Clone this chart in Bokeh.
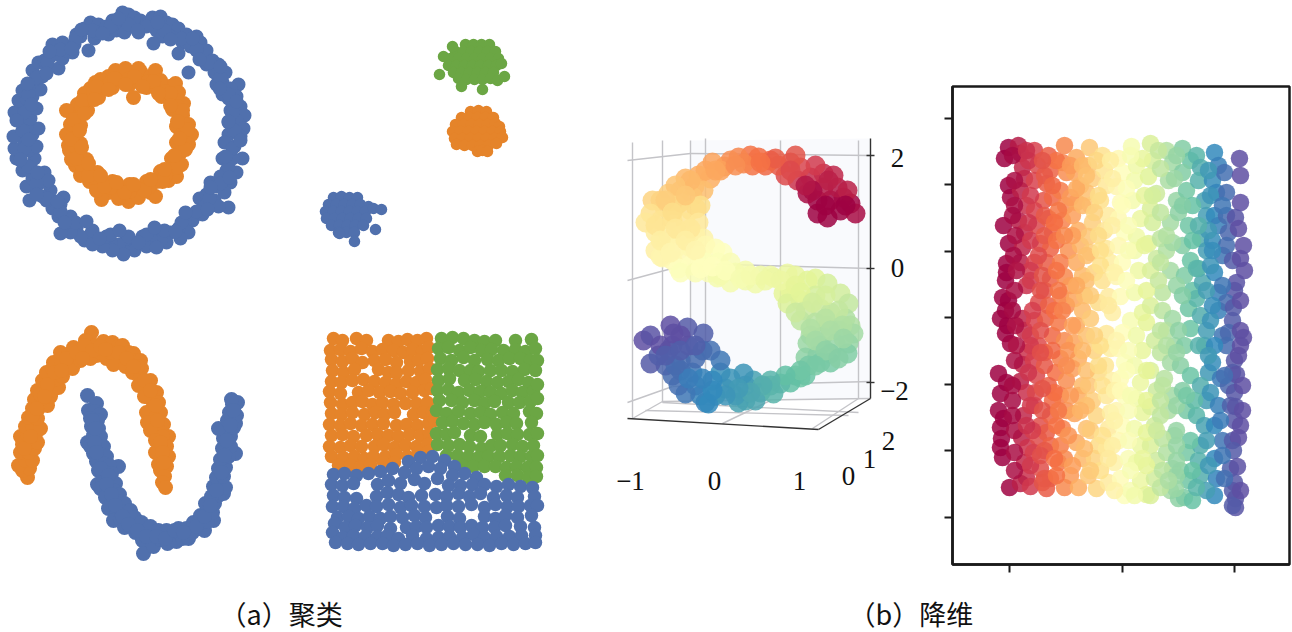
from bokeh.embed import file_html
from bokeh.resources import INLINE
from bokeh.plotting import figure
from bokeh.layouts import row, column
from bokeh.models import Range1d, FixedTicker, LinearAxis, LinearColorMapper, ColumnDataSource
from bokeh.core.properties import value
from bokeh.palettes import Spectral11, interp_palette

BLUE = "#5070ad"
ORANGE = "#e5842a"
GREEN = "#6ba644"

ring_outer = [(128,14),(122,12),(134,17),(126,26),(118,22),(140,20),(146,24),(138,32),(152,17),(160,16),(166,22),(156,30),(162,36),(172,24),(178,28),(170,36),(153,43),(186,34),(192,38),(182,42),(178,53),(196,36),(200,42),(206,50),(196,50),(190,46),(212,60),(206,64),(218,64),(225,72),(214,72),(188,72),(238,84),(222,82),(230,88),(216,84),(228,98),(236,96),(222,94),(240,106),(230,110),(244,115),(236,120),(228,122),(232,130),(243,128),(240,136),(228,134),(234,146),(224,142),(242,158),(232,158),(222,158),(236,172),(226,170),(220,176),(230,182),(216,186),(224,192),(210,182),(199,198),(228,207),(214,200),(206,194),(218,206),(204,206),(196,212),(192,220),(202,214),(184,222),(188,232),(178,228),(170,232),(180,238),(166,242),(156,232),(160,240),(150,238),(142,236),(146,246),(136,242),(128,240),(156,247),(134,250),(122,248),(126,238),(118,244),(123,254),(110,242),(112,250),(102,246),(96,238),(106,236),(90,234),(84,240),(92,244),(76,228),(80,236),(70,232),(60,233),(66,222),(58,216),(70,216),(52,208),(63,197),(46,200),(50,190),(60,204),(42,196),(29,200),(36,186),(46,182),(26,186),(32,178),(44,172),(48,180),(22,170),(30,166),(20,160),(34,158),(28,150),(16,158),(36,146),(24,142),(14,148),(20,134),(13,136),(32,134),(38,128),(26,126),(20,120),(14,112),(30,118),(24,110),(36,108),(18,100),(26,98),(22,90),(32,96),(40,89),(28,86),(36,78),(32,70),(42,76),(38,62),(46,66),(58,68),(50,56),(44,60),(62,58),(56,48),(66,50),(52,44),(62,42),(74,44),(72,52),(80,36),(76,34),(88,50),(84,28),(94,38),(90,22),(98,24),(96,32),(106,26),(112,20),(108,34),(116,30),(124,32),
(128,24),(146,26),(164,30),(181,38),(196,49),(209,62),(220,77),(228,94),(232,112),(234,130),(232,148),(228,166),(220,183),(209,198),(196,211),(181,222),(164,230),(146,234),(128,236),(110,234),(92,230),(75,222),(60,211),(47,198),(36,183),(28,166),(24,148),(22,130),(24,112),(28,94),(36,77),(47,62),(60,49),(75,38),(92,30),(110,26),
(137,30),(157,22),(170,39),(192,38),(199,59),(220,66),(219,88),(236,101),(228,121),(240,140),(225,156),(229,177),(210,187),(207,209),(185,212),(175,231),(154,227),(138,242),(119,230),(99,238),(86,221),(64,222),(57,201),(36,194),(37,172),(20,159),(28,139),(16,120),(31,104),(27,83),(46,73),(49,51),(71,48),(81,29),(102,33),(118,18)]

ring_inner = [(129,84),(129,72),(138,81),(140,71),(146,87),(150,76),(156,87),(161,96),(169,86),(172,98),(172,109),(183,103),(182,115),(176,126),(188,124),(181,134),(191,134),(176,142),(188,144),(180,152),(171,158),(181,164),(170,169),(160,171),(168,180),(156,181),(146,181),(150,192),(139,189),(129,184),(129,198),(119,189),(112,181),(108,192),(101,182),(97,172),(89,181),(86,170),(86,159),(75,165),(76,153),(80,143),(68,145),(73,134),(66,134),(80,125),(70,124),(76,115),(87,110),(77,104),(88,99),(98,97),(90,88),(102,87),(112,87),(108,76),(119,79),(133,97),(175,83),(115,70),(125,68),(138,68),(100,79),(155,70),(128,201),(101,199),(155,196),(66,110),(69,150),(160,80),(178,92),(184,140),(176,176),(138,197),(118,198),(96,190),(80,175),(71,159),(84,93),(95,82),(129,78),(148,81),(165,91),(177,106),(184,124),(165,175),(148,187),(129,191),(110,187),(93,177),(81,164),(74,145),(72,124),(81,106),(93,92),(110,82),
(134,76),(153,81),(170,93),(182,110),(187,129),(185,149),(177,167),(162,181),(144,190),(124,192),(104,186),(88,175),(76,158),(71,139),(73,119),(82,100),(96,86),(114,78),
(142,86),(158,93),(170,105),(177,121),(179,138),(174,155),(164,169),(150,179),(133,184),(116,182),(100,175),(88,163),(81,147),(79,130),(84,113),(94,99),(108,89),(125,84)]

moon_orange = [(27,477),(22,470),(29,468),(18,465),(25,460),(32,460),(20,452),(28,452),(34,448),(22,444),(29,442),(37,442),(20,436),(27,434),(35,434),(25,426),(32,426),(40,428),(28,417),(35,417),(37,418),(32,408),(38,408),(47,405),(34,399),(41,398),(50,396),(37,390),(44,389),(52,390),(58,387),(42,380),(48,379),(55,379),(62,376),(46,372),(52,368),(58,369),(65,368),(53,362),(61,361),(68,362),(72,368),(60,352),(68,354),(74,356),(80,360),(73,347),(80,349),(86,354),(88,345),(91,332),(85,340),(95,345),(96,355),(90,358),(100,352),(103,341),(108,347),(106,358),(112,342),(118,346),(114,355),(122,345),(128,352),(120,358),(113,364),(133,353),(135,360),(125,366),(140,360),(141,368),(132,372),(150,380),(140,378),(146,388),(138,385),(156,392),(150,398),(144,396),(158,402),(152,408),(146,412),(160,412),(154,418),(147,422),(163,424),(157,428),(150,430),(168,436),(162,436),(155,440),(166,446),(160,448),(155,452),(168,456),(161,458),(158,464),(166,466),(160,470),(164,476),(162,482),(165,487),
(24,448),(30,436),(32,415),(40,394),(47,384),(54,372),(66,358),(76,352),(84,345),(92,350),(100,346),(110,352),(118,352),(126,358),(137,366),(144,380),(150,390),(155,405),(157,420),(160,442),(162,452),(163,462),(36,408),(44,396),(61,370),(82,358),(105,349),(133,366)]

moon_blue = [(87,395),(96,403),(88,410),(94,411),(100,414),(90,418),(97,420),(91,426),(98,428),(87,442),(93,435),(100,436),(90,446),(97,445),(103,446),(93,453),(100,454),(106,456),(118,466),(96,461),(103,463),(109,465),(98,470),(105,472),(111,473),(97,484),(102,480),(109,481),(115,483),(100,488),(106,490),(113,490),(119,494),(105,497),(111,499),(118,501),(124,503),(108,508),(116,510),(123,511),(130,510),(113,520),(120,519),(127,519),(134,517),(137,525),(124,527),(131,526),(141,522),(135,532),(143,531),(150,526),(142,540),(150,538),(158,530),(143,553),(153,546),(160,539),(166,530),(167,543),(172,535),(178,528),(176,541),(182,538),(188,538),(186,528),(193,522),(192,532),(200,528),(204,530),(213,520),(207,521),(200,515),(207,510),(212,512),(205,503),(214,503),(223,493),(218,495),(211,496),(213,486),(221,484),(225,487),(216,477),(223,476),(218,468),(225,467),(235,453),(228,456),(220,459),(222,448),(230,446),(223,438),(230,436),(226,428),(233,427),(218,428),(227,420),(235,423),(229,412),(236,415),(232,404),(237,402),(231,399),
(92,420),(95,428),(94,442),(96,452),(100,468),(108,475),(106,484),(111,494),(115,505),(122,516),(128,524),(137,530),(146,536),(156,536),(165,538),(174,530),(183,532),(196,526),(204,516),(210,505),(216,490),(221,472),(224,455),(226,440),(230,425),(233,410)]

blob_green = [(465,44),(473,44),(481,44),(489,44),(455,51),(463,51),(471,51),(479,51),(487,51),(495,51),(450,58),(458,58),(466,58),(474,58),(482,58),(490,58),(498,58),(448,65),(456,65),(464,65),(472,65),(480,65),(488,65),(496,65),(501,63),(453,72),(461,72),(469,72),(477,72),(485,72),(493,72),(458,78),(466,79),(474,79),(482,79),(490,78),(439,74),(452,46),(443,56),(461,86),(482,89),(497,80),(504,76)]
blob_orange = [(470,111),(478,110),(486,111),(461,117),(469,117),(477,117),(485,117),(493,117),(455,124),(463,124),(471,124),(479,124),(487,124),(495,123),(499,126),(452,131),(460,131),(468,131),(476,131),(484,131),(492,131),(500,131),(454,138),(462,138),(470,138),(478,138),(486,138),(494,138),(502,137),(456,144),(464,145),(472,145),(480,145),(488,145),(496,143),(477,151),(482,150),(487,151)]
blob_blue = [(333,197),(341,196),(349,197),(357,197),(328,204),(336,204),(344,204),(352,204),(360,204),(368,206),(325,211),(333,211),(341,211),(349,211),(357,211),(365,211),(373,208),(381,209),(326,218),(334,218),(342,218),(350,218),(358,218),(366,218),(331,225),(339,225),(347,225),(355,225),(363,225),(338,232),(346,232),(354,232),(375,229),(339,233),(354,241)]

square_orange = [(333,338),(342,340),(356,338),(366,340),(388,340),(398,341),(407,339),(417,340),(426,338),
(330,350),(340,349),(350,351),(361,348),(372,351),(382,349),(393,350),(403,352),(412,349),(422,351),(428,347),
(331,359),(342,361),(352,358),(362,362),(374,360),(385,359),(396,362),(410,361),(418,360),(427,358),
(332,370),(343,372),(354,369),(378,369),(388,372),(396,372),(408,370),(420,371),(429,368),
(331,381),(341,382),(352,380),(363,379),(374,381),(385,382),(396,383),(406,381),(416,382),(425,379),
(329,391),(340,393),(358,392),(368,390),(379,392),(390,391),(400,393),(412,392),(424,390),(431,388),
(330,402),(342,404),(352,402),(362,401),(372,404),(382,402),(393,404),(405,403),(416,403),(427,402),
(331,413),(341,414),(352,412),(364,414),(375,412),(384,414),(394,412),(413,414),(423,412),(432,412),
(329,424),(340,425),(350,423),(361,425),(372,424),(383,423),(396,425),(406,424),(417,425),(428,423),(434,420),
(331,435),(342,434),(353,436),(366,435),(377,434),(388,435),(398,436),(409,434),(420,435),(429,433),
(329,446),(340,447),(350,445),(361,446),(374,446),(383,444),(394,447),(405,445),(416,446),(427,444),
(331,456),(343,457),(354,456),(364,458),(373,456),(385,456),(396,454),(407,456),(418,452),(428,451),
(338,465),(350,465),(360,467),(370,464),(383,462),(394,462)]

square_green = [(441,338),(452,337),(463,338),(474,340),(484,341),(495,340),(515,340),(531,339),
(438,348),(448,347),(459,350),(470,347),(481,350),(491,349),(503,350),(515,349),(525,351),(535,348),
(440,358),(451,360),(463,357),(474,360),(487,359),(498,360),(509,358),(520,358),(530,360),(537,360),
(437,369),(448,368),(459,370),(470,370),(478,371),(490,370),(501,370),(512,371),(524,369),(535,370),
(438,380),(449,378),(464,380),(475,379),(486,381),(497,382),(508,381),(518,379),(528,382),
(437,390),(448,389),(458,392),(469,390),(480,391),(490,392),(501,393),(512,390),(522,392),(533,391),(537,384),
(439,400),(451,400),(462,402),(474,400),(484,403),(494,401),(508,402),(519,402),(530,401),(537,398),
(436,410),(446,413),(458,411),(470,413),(480,412),(490,414),(502,412),(513,413),(529,411),(536,413),
(442,422),(452,421),(463,423),(474,424),(484,422),(496,424),(506,422),(516,423),(531,422),
(436,433),(446,434),(454,432),(470,435),(480,436),(497,434),(507,433),(517,434),(529,434),(537,433),
(437,444),(448,445),(459,444),(469,446),(481,448),(491,445),(500,445),(512,444),(522,446),(533,445),
(446,455),(457,455),(468,456),(478,457),(488,456),(499,456),(510,455),(520,456),(531,456),(537,455),
(462,465),(473,466),(484,466),(495,466),(506,467),(516,466),(527,467),(536,467),
(505,475),(517,475),(528,477),(536,476)]

square_blue = [(408,461),(420,457),(432,456),(444,460),(454,466),
(333,474),(344,473),(356,475),(368,473),(380,471),(392,468),(404,472),(416,468),(428,466),(440,468),(452,475),(464,473),(476,477),
(331,484),(342,485),(353,483),(377,484),(388,480),(400,483),(414,479),(424,483),(437,478),(448,485),(460,485),(472,484),(484,484),(496,486),(508,484),(520,486),(532,487),
(333,495),(344,497),(356,498),(376,496),(387,492),(398,494),(408,497),(421,495),(435,494),(446,496),(458,493),(469,496),(480,493),(493,497),(506,495),(517,497),(534,496),
(332,506),(343,506),(354,508),(366,505),(376,506),(388,504),(400,507),(411,505),(424,506),(436,507),(446,505),(458,506),(471,504),(484,507),(495,504),(507,506),(518,506),(530,505),(537,505),
(337,517),(348,516),(358,518),(369,516),(380,518),(390,516),(402,517),(414,515),(425,517),(447,516),(459,518),(484,516),(495,518),(505,515),(517,517),(531,515),
(334,523),(345,527),(355,525),(367,527),(377,525),(390,528),(406,527),(416,526),(426,527),(438,525),(449,526),(460,527),(471,525),(482,527),(494,527),(505,525),(520,526),(534,527),
(332,532),(342,537),(353,535),(365,536),(377,536),(387,535),(398,538),(412,535),(426,538),(438,537),(449,536),(462,537),(473,534),(484,537),(496,536),(509,536),(521,535),(535,535),
(335,542),(347,543),(358,544),(370,543),(382,543),(393,545),(405,544),(417,543),(429,545),(441,544),(453,543),(465,544),(477,544),(489,545),(501,543),(513,544),(525,543),(535,542)]

embed_points = [(1004,158),(1008,147),(1018,145),(1008,185),(1010,197),(1003,225),(1008,243),(1006,263),(1005,280),(1002,297),(1008,300),(1000,318),(1005,333),(1010,343),(998,373),(1000,393),(998,410),(1000,427),(1000,447),(1002,457),(1009,487),(1006,272),(1005,310),(1007,325),(1006,382),(1001,438),(1003,418),
(1020,153),(1022,167),(1024,178),(1020,190),(1026,205),(1018,220),(1024,232),(1022,247),(1020,262),(1026,285),(1022,318),(1024,330),(1027,352),(1022,364),(1020,381),(1026,392),(1023,415),(1021,437),(1027,447),(1024,462),(1026,477),(1020,483),
(1034,150),(1037,165),(1034,180),(1043,200),(1034,210),(1036,225),(1040,243),(1034,262),(1030,280),(1038,302),(1034,320),(1030,335),(1038,345),(1033,360),(1036,375),(1035,392),(1034,405),(1040,425),(1038,438),(1033,452),(1040,468),(1030,486),(1042,482),
(1048,155),(1050,170),(1046,183),(1052,197),(1048,218),(1052,232),(1050,248),(1046,262),(1050,278),(1044,290),(1048,305),(1045,318),(1052,335),(1044,352),(1055,372),(1048,385),(1052,400),(1050,415),(1046,432),(1050,445),(1058,462),(1050,478),(1046,488),
(1064,145),(1062,162),(1066,172),(1060,190),(1065,205),(1062,220),(1068,250),(1060,262),(1064,276),(1060,295),(1066,305),(1058,322),(1064,340),(1060,358),(1066,380),(1060,395),(1066,410),(1062,428),(1060,445),(1064,458),(1070,475),(1064,487),
(1076,157),(1074,172),(1080,185),(1076,202),(1072,215),(1078,230),(1080,245),(1076,262),(1082,275),(1074,298),(1082,310),(1076,325),(1074,342),(1078,358),(1072,368),(1082,385),(1078,395),(1074,413),(1086,428),(1076,442),(1082,458),(1078,487),
(1089,147),(1088,165),(1092,178),(1086,192),(1090,205),(1092,222),(1088,236),(1090,252),(1094,272),(1086,280),(1098,302),(1090,318),(1086,335),(1094,350),(1098,372),(1088,385),(1092,400),(1096,415),(1090,430),(1098,445),(1094,458),(1096,488),
(1102,155),(1104,170),(1106,185),(1100,200),(1108,215),(1104,230),(1106,248),(1110,262),(1102,280),(1108,296),(1112,312),(1106,333),(1110,348),(1105,365),(1112,380),(1106,395),(1110,412),(1108,428),(1106,448),(1114,462),(1108,482),
(1118,158),(1122,172),(1116,186),(1120,202),(1118,218),(1124,232),(1118,245),(1122,262),(1116,276),(1120,296),(1130,320),(1122,332),(1118,348),(1124,362),(1120,378),(1124,395),(1116,410),(1122,425),(1118,440),(1128,458),(1120,478),(1124,495),(1130,490),
(1131,146),(1136,165),(1134,180),(1132,200),(1140,218),(1136,236),(1134,250),(1138,270),(1134,292),(1142,312),(1136,335),(1142,350),(1134,365),(1140,382),(1136,398),(1142,412),(1134,428),(1140,445),(1136,462),(1140,480),(1146,494),
(1150,143),(1152,160),(1148,176),(1156,193),(1150,208),(1152,222),(1148,243),(1156,258),(1150,270),(1162,292),(1150,305),(1146,322),(1154,340),(1160,352),(1150,370),(1156,390),(1150,406),(1154,425),(1150,445),(1156,460),(1154,478),(1150,495),
(1166,150),(1172,162),(1168,180),(1176,200),(1170,222),(1160,238),(1166,250),(1170,270),(1162,310),(1172,318),(1166,330),(1174,345),(1170,362),(1164,378),(1172,395),(1168,410),(1174,435),(1166,452),(1172,468),(1170,490),(1178,498),
(1182,148),(1190,160),(1182,172),(1186,190),(1178,212),(1188,225),(1182,245),(1190,260),(1184,275),(1192,290),(1188,308),(1190,328),(1184,345),(1180,365),(1190,375),(1182,390),(1186,410),(1176,430),(1186,452),(1180,470),(1188,480),(1184,497),(1175,488),
(1196,155),(1200,167),(1198,180),(1204,200),(1206,215),(1200,238),(1206,250),(1198,268),(1202,282),(1196,298),(1200,315),(1206,330),(1204,345),(1208,372),(1200,385),(1206,400),(1196,415),(1204,425),(1200,445),(1198,460),(1200,475),(1192,500),
(1214,152),(1218,165),(1212,180),(1216,192),(1214,215),(1218,225),(1212,240),(1222,255),(1214,272),(1218,292),(1206,290),(1218,310),(1210,320),(1222,335),(1212,362),(1220,378),(1210,392),(1218,405),(1214,425),(1222,440),(1214,458),(1216,478),(1214,495),
(1224,172),(1226,192),(1226,215),(1228,232),(1226,245),(1232,260),(1234,290),(1226,302),(1232,320),(1228,332),(1226,345),(1234,360),(1232,372),(1228,385),(1230,405),(1234,420),(1232,440),(1230,468),(1232,490),
(1239,158),(1240,202),(1235,217),(1243,245),(1240,258),(1236,282),(1233,307),(1240,330),(1243,337),(1238,355),(1236,374),(1234,392),(1235,406),(1238,437),(1233,450),(1237,466),(1234,482),(1235,498),(1235,507),(1232,505)]

embed_fill = [(1014,205),(1015,235),(1013,255),(1014,290),(1015,325),(1014,360),(1012,400),(1014,430),(1014,470),
(1028,160),(1030,195),(1030,240),(1030,270),(1032,310),(1030,345),(1028,372),(1030,405),(1032,430),(1030,465),
(1044,175),(1044,215),(1044,235),(1042,275),(1040,330),(1044,365),(1042,410),(1044,450),(1044,478),
(1056,160),(1058,210),(1056,240),(1056,270),(1054,310),(1052,350),(1054,392),(1056,425),(1056,475),
(1070,165),(1070,197),(1072,235),(1070,285),(1072,325),(1068,350),(1070,395),(1068,435),(1072,465),
(1082,165),(1082,205),(1086,255),(1084,295),(1082,350),(1086,405),(1084,448),(1088,475),
(1096,160),(1098,195),(1098,235),(1100,265),(1100,345),(1102,385),(1102,435),(1100,470),
(1112,178),(1112,225),(1114,272),(1116,340),(1114,390),(1114,420),(1112,445),(1114,490),
(1126,188),(1128,250),(1126,280),(1126,370),(1128,410),(1130,470),(1128,440),
(1142,158),(1144,195),(1144,245),(1146,370),(1146,400),(1146,432),(1146,465),
(1160,168),(1160,212),(1160,262),(1160,330),(1162,385),(1160,415),(1162,470),(1160,487),
(1174,178),(1172,242),(1176,285),(1178,330),(1176,405),(1176,460),(1176,475),
(1192,205),(1192,240),(1196,268),(1198,345),(1194,400),(1190,440),(1192,470),
(1208,170),(1208,230),(1210,265),(1212,305),(1214,345),(1206,440),(1208,465),(1206,490),
(1012,155),(1014,180),(1012,215),(1016,270),(1012,310),(1016,345),(1012,385),(1012,415),(1014,452),
(1026,150),(1028,222),(1038,255),(1040,290),(1040,352),(1042,388),(1026,425),(1040,455),
(1052,185),(1042,160),(1054,222),(1058,290),(1062,310),(1066,365),(1058,410),(1054,458),
(1076,188),(1064,235),(1086,175),(1076,285),(1090,295),(1094,335),(1086,370),(1080,410),(1090,470),
(1110,160),(1094,212),(1100,250),(1122,205),(1108,305),(1098,365),(1120,390),(1108,458),
(1130,155),(1128,225),(1152,195),(1146,290),(1128,350),(1130,395),(1142,458),(1134,495),
(1158,150),(1166,235),(1158,280),(1166,345),(1160,400),(1162,438),(1168,480),(1156,430),
(1176,155),(1182,205),(1198,225),(1182,295),(1176,352),(1186,395),(1176,445),(1196,487),
(1210,195),(1222,205),(1212,250),(1222,285),(1208,355),(1224,375),(1220,420),(1222,455),(1224,478),
(1240,175),(1238,228),(1244,270),(1240,300),(1240,345),(1242,385),(1242,410),(1240,425),(1240,490)]

s_x = [817,827,840,850,855,843,830,817,807,823,837,847,823,810,797,833,815,800,785,790,778,770,795,765,758,752,750,738,743,730,724,712,720,705,698,710,685,694,680,703,692,668,680,696,660,652,664,676,690,700,650,660,672,685,698,645,655,668,680,695,703,665,675,690,705,655,662,672,685,700,715,722,660,678,690,705,718,730,680,695,708,720,735,745,717,730,745,755,760,770,773,787,795,783,790,807,815,787,800,815,827,840,805,820,830,848,800,815,828,845,850,810,822,838,853,807,820,835,848,805,817,830,847,800,808,820,830,795,805,790,780,770,760,773,745,755,738,753,745,735,743,725,730,720,712,715,705,700,708,695,685,678,692,720,680,672,665,680,695,710,668,650,658,672,688,703,687,643,650,660,673,680,670]
s_y = [213,217,210,203,213,197,200,200,193,187,187,190,173,177,180,175,165,167,175,162,165,160,155,165,157,165,155,157,163,160,166,162,170,170,175,178,178,186,190,190,196,193,202,208,200,200,207,205,210,205,213,220,220,222,222,222,232,235,235,235,238,245,248,247,245,250,257,260,258,255,248,252,256,268,265,262,262,262,272,272,272,275,272,270,277,282,280,283,275,275,277,273,275,293,290,280,278,303,300,295,283,293,310,308,312,303,320,322,325,318,325,335,336,330,333,343,345,343,343,357,355,353,353,377,365,362,362,375,375,382,383,385,392,393,400,400,402,380,385,395,373,388,378,372,380,395,402,395,403,385,393,385,372,360,370,375,365,360,358,350,350,363,355,345,345,333,327,340,335,345,333,335,325]
s_t = [.01,.02,.03,.05,.06,.06,.05,.03,.06,.08,.08,.09,.11,.11,.12,.1,.13,.15,.16,.18,.19,.21,.18,.22,.23,.24,.24,.27,.27,.28,.29,.31,.31,.32,.33,.33,.35,.35,.36,.36,.37,.39,.39,.4,.39,.4,.41,.41,.42,.42,.43,.44,.44,.44,.45,.45,.46,.46,.47,.47,.48,.48,.49,.49,.5,.47,.5,.5,.5,.51,.51,.52,.49,.52,.52,.53,.53,.54,.53,.54,.54,.55,.55,.56,.56,.56,.57,.57,.58,.58,.59,.59,.6,.61,.61,.62,.62,.63,.63,.64,.64,.65,.66,.66,.67,.67,.68,.69,.69,.7,.7,.71,.72,.72,.72,.73,.74,.74,.74,.75,.76,.76,.77,.79,.78,.78,.78,.8,.8,.81,.82,.83,.84,.83,.85,.85,.86,.86,.87,.87,.88,.88,.88,.89,.9,.89,.91,.91,.9,.92,.93,.94,.93,.93,.95,.95,.96,.95,.95,.94,.97,.98,.97,.98,.98,.97,.98,1,.99,1,1,1,1]
s_fill = [(825,205,.03),(812,190,.06),(805,185,.08),(845,205,.04),(828,180,.09),(790,170,.16),(775,158,.2),(760,162,.24),(735,165,.28),(715,170,.32),(690,180,.35),(675,185,.37),(665,200,.39),(685,195,.38),(672,212,.42),(655,225,.44),(690,228,.45),(675,228,.45),(660,240,.47),(685,240,.47),(695,250,.49),(670,252,.49),(700,268,.52),(712,266,.52),(725,270,.53),(740,278,.55),(750,275,.56),(765,280,.58),(780,280,.59),(795,285,.61),(800,292,.62),(825,295,.64),(812,302,.65),(795,312,.66),(838,310,.67),(825,318,.69),(810,328,.7),(842,325,.7),(830,330,.71),(815,340,.72),(843,338,.73),(825,350,.75),(838,358,.76),(815,365,.78),(800,370,.79),(785,375,.81),(770,380,.83),(762,385,.84),(750,392,.85),(738,388,.87),(725,395,.88),(712,390,.9),(702,378,.91),(688,378,.92),(675,365,.95),(702,350,.95),(665,355,.97),(680,350,.97),(695,345,.97)]

axis_x_labels = ["\u22121", "0", "1"]
axis_x_pos = [630, 714, 799]
axis_x_y = [480, 480, 480]
axis_y_labels = ["2", "0", "\u22122"]
axis_y_pos = [157, 267, 390]
axis_y_x = [897, 897, 894]
axis_z_labels = ["0", "1", "2"]
axis_z_x = [848, 869, 888]
axis_z_y = [475, 458, 440]

wall_x = [690, 870, 870, 690]
wall_y = [140, 138, 398, 402]

grid_x0 = [632, 662, 690, 705, 780, 858, 627, 690, 627, 690, 627, 672, 662, 632, 722, 812, 645, 662]
grid_y0 = [142, 140, 140, 138, 140, 140, 160, 153, 280, 263, 402, 386, 401, 418, 423, 428, 410, 402]
grid_x1 = [632, 662, 690, 705, 780, 858, 690, 870, 690, 870, 672, 870, 870, 662, 770, 858, 848, 858]
grid_y1 = [418, 402, 402, 400, 382, 398, 153, 155, 263, 268, 386, 381, 398, 401, 400, 398, 415, 412]

edge_x0 = [627, 818, 870, 866, 866, 866]
edge_y0 = [418, 429, 138, 155, 268, 382]
edge_x1 = [818, 870, 870, 874, 874, 874]
edge_y1 = [429, 398, 398, 155, 268, 382]

frame_xticks = [1009, 1122, 1234]
frame_yticks = [118, 184, 251, 317, 384, 450, 517]

captions = ["\uff08a\uff09\u805a\u7c7b", "\uff08b\uff09\u964d\u7ef4"]
caption_x = [219, 848]
caption_y = [23, 23]


def blank(x0, x1, y0, y1):
    p = figure(width=x1 - x0, height=y1 - y0, x_range=Range1d(x0, x1), y_range=Range1d(y1, y0),
               x_axis_location=None, y_axis_location=None, toolbar_location=None,
               output_backend="svg", min_border=0, outline_line_color=None, frame_align=False)
    p.grid.visible = False
    return p


def dots(p, pts, color, size):
    p.scatter([a for a, _ in pts], [b for _, b in pts], size=size, color=color, line_color=None)


left = blank(0, 600, 0, 590)
for pts, c, sz in [(ring_outer, BLUE, 14), (ring_inner, ORANGE, 15), (moon_orange, ORANGE, 15), (moon_blue, BLUE, 15),
                   (blob_green, GREEN, 11.5), (blob_orange, ORANGE, 11.5), (blob_blue, BLUE, 11.5),
                   (square_orange, ORANGE, 13.5), (square_green, GREEN, 13.5), (square_blue, BLUE, 13.5)]:
    dots(left, pts, c, sz)

spectral = list(reversed(interp_palette(Spectral11, 256)))

mid = blank(600, 944, 0, 590)
mid.patch(wall_x, wall_y, color="#f9fafd", line_color=None)
mid.segment(grid_x0, grid_y0, grid_x1, grid_y1, line_color="#c4c4c8", line_width=1.4)
mid.segment(edge_x0, edge_y0, edge_x1, edge_y1, line_color="#333333", line_width=1.4)
s_map = LinearColorMapper(palette=spectral, low=0.04, high=1)
mid.scatter("x", "y", source=ColumnDataSource(dict(x=s_x + [a[0] for a in s_fill], y=s_y + [a[1] for a in s_fill],
                                                   t=s_t + [a[2] for a in s_fill])), size=20,
            fill_color={"field": "t", "transform": s_map}, fill_alpha=0.85, line_color=None)
serif = value("Liberation Serif")
for xs, ys, labels in [(axis_x_pos, axis_x_y, axis_x_labels), (axis_y_x, axis_y_pos, axis_y_labels),
                       (axis_z_x, axis_z_y, axis_z_labels)]:
    mid.text(xs, ys, text=labels, text_font=serif, text_font_size="27px", text_color="#111111",
             text_align="center", text_baseline="middle")

right = figure(width=348, height=590, x_range=Range1d(952, 1289), y_range=Range1d(564, 86),
               x_axis_location=None, y_axis_location=None, toolbar_location=None, output_backend="svg",
               min_border_left=8, min_border_right=3, min_border_top=86, min_border_bottom=26,
               outline_line_color="#1a1a1a", outline_line_width=2.5, frame_align=False)
right.grid.visible = False
for axis, place, ticks in [(LinearAxis(), "below", frame_xticks), (LinearAxis(), "left", frame_yticks)]:
    axis.ticker = FixedTicker(ticks=ticks)
    axis.major_tick_out = 8
    axis.major_tick_in = 0
    axis.major_tick_line_width = 2
    axis.major_tick_line_color = "#1a1a1a"
    axis.minor_tick_line_color = None
    axis.axis_line_color = "#1a1a1a"
    axis.axis_line_width = 2.5
    axis.major_label_overrides = {t: "" for t in ticks}
    axis.major_label_standoff = 0
    right.add_layout(axis, place)
all_embed = embed_points + embed_fill
x_map = LinearColorMapper(palette=spectral, low=1008, high=1238)
right.scatter("x", "y", source=ColumnDataSource(dict(x=[a for a, _ in all_embed], y=[b for _, b in all_embed])),
              size=17.5, fill_color={"field": "x", "transform": x_map}, fill_alpha=0.85, line_color=None)

bottom = blank(0, 1292, 590, 632)
bottom.y_range = Range1d(42, 0)
bottom.text(caption_x, caption_y, text=captions, text_font=value("Noto Sans CJK SC"), text_font_size="27px",
            text_color="#111111", text_align="left", text_baseline="middle")

page = column(row(left, mid, right), bottom, spacing=0)
open("out.html", "w").write(file_html(page, INLINE))
